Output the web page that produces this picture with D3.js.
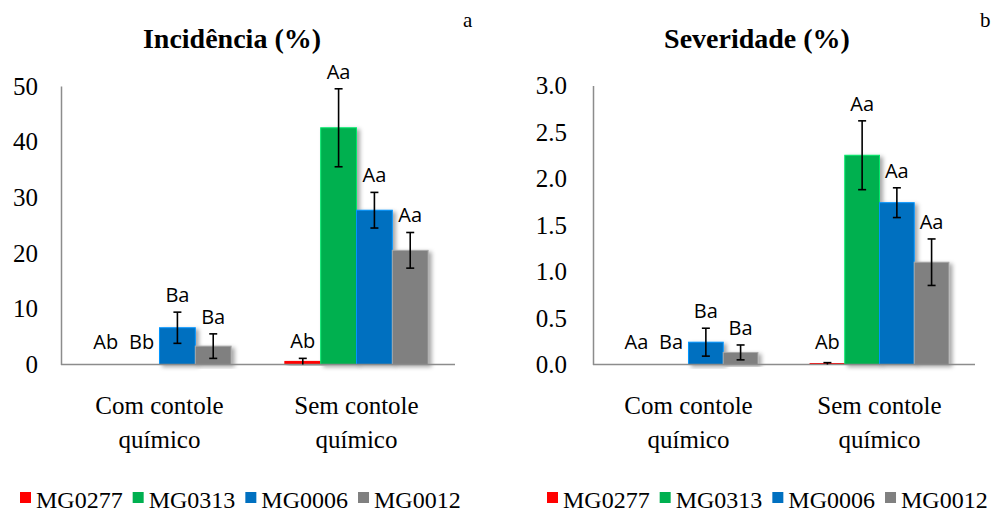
<!DOCTYPE html>
<html>
<head>
<meta charset="utf-8">
<script src="https://cdnjs.cloudflare.com/ajax/libs/d3/7.8.5/d3.min.js"></script>
<style>
  body { margin: 0; background: #fff; }
  svg { display: block; }
</style>
</head>
<body>
<div id="chart"></div>
<script>
// data
var categories = ["Com contole\nquímico", "Sem contole\nquímico"];
var lines = ["MG0277", "MG0313", "MG0006", "MG0012"];
var colors = ["#ff0000", "#00b050", "#0070c0", "#808080"];

// incidência (%) -> [com, sem] per line
var incValues = [[0, 0.55], [0, 42.5], [6.6, 27.7], [3.3, 20.5]];
var incErrors = [[0, 0.55], [0, 7.0], [2.8, 3.2], [2.2, 3.2]];
var incLetters = [["Ab", "Ab"], ["Bb", "Aa"], ["Ba", "Aa"], ["Ba", "Aa"]];
var incTicks = [0, 10, 20, 30, 40, 50];

// severidade (%)
var sevValues = [[0, 0.01], [0, 2.25], [0.24, 1.74], [0.13, 1.1]];
var sevErrors = [[0, 0.01], [0, 0.37], [0.15, 0.16], [0.08, 0.25]];
var sevLetters = [["Aa", "Ab"], ["Ba", "Aa"], ["Ba", "Aa"], ["Ba", "Aa"]];
var sevTicks = [0, 0.5, 1.0, 1.5, 2.0, 2.5, 3.0];

var SERIF = "'Liberation Serif', 'Times New Roman', serif";
var SANS = "'Open Sans', 'Noto Sans', sans-serif";

(function(){

  var width = 991, height = 513;

  var svg = d3.select("#chart").append("svg")
    .attr("width", width)
    .attr("height", height);

  // soft shadow that excel puts on the bars
  var filter = svg.append("defs").append("filter")
    .attr("id", "shadow")
    .attr("x", "-20%").attr("y", "-20%")
    .attr("width", "150%").attr("height", "140%");
  filter.append("feDropShadow")
    .attr("dx", 3).attr("dy", 2)
    .attr("stdDeviation", 2)
    .attr("flood-color", "#000")
    .attr("flood-opacity", 0.35);

  function serif(sel, size) {
    return sel.style("font-family", SERIF)
      .style("font-size", size + "px")
      .attr("fill", "#000");
  }

  function panel(opt) {
    var g = svg.append("g");

    var y = d3.scaleLinear()
      .domain([0, opt.ticks[opt.ticks.length - 1]])
      .range([opt.bottom, opt.top]);

    var x0 = d3.scaleBand()
      .domain(d3.range(categories.length))
      .range([opt.left, opt.right]);

    var x1 = d3.scaleBand()
      .domain(d3.range(lines.length))
      .range([0, x0.bandwidth()])
      .paddingOuter(0.75);

    // title + panel letter
    serif(g.append("text"), 28)
      .attr("x", opt.titleX).attr("y", 48)
      .attr("text-anchor", "middle")
      .style("font-weight", "bold")
      .text(opt.title);

    serif(g.append("text"), 21)
      .attr("x", opt.letterX).attr("y", 27)
      .text(opt.letter);

    // y axis: only line and labels
    var yAxis = d3.axisLeft(y)
      .tickValues(opt.ticks)
      .tickSize(0)
      .tickPadding(opt.tickPad)
      .tickFormat(opt.format);

    var ya = g.append("g")
      .attr("transform", "translate(" + opt.left + ",0)")
      .call(yAxis);
    ya.select(".domain").attr("stroke", "#8c8c8c").attr("stroke-width", 1.5);
    serif(ya.selectAll("text"), 25);

    // bars
    var bars = [];
    lines.forEach(function(name, s) {
      categories.forEach(function(c, i) {
        bars.push({ s: s, i: i, v: opt.values[s][i], e: opt.errors[s][i], t: opt.letters[s][i] });
      });
    });

    g.selectAll(".bar")
      .data(bars.filter(function(d) { return d.v > 0; }))
      .enter().append("rect")
      .attr("class", "bar")
      .attr("x", function(d) { return x0(d.i) + x1(d.s); })
      .attr("width", x1.bandwidth())
      .attr("y", function(d) { return y(d.v); })
      .attr("height", function(d) { return y(0) - y(d.v); })
      .attr("fill", function(d) { return colors[d.s]; })
      .attr("stroke", function(d) { return d3.color(colors[d.s]).brighter(0.8); })
      .attr("stroke-width", 1)
      .attr("filter", "url(#shadow)");

    // x axis line over the bars
    g.append("line")
      .attr("x1", opt.left).attr("x2", opt.right)
      .attr("y1", y(0)).attr("y2", y(0))
      .attr("stroke", "#8c8c8c")
      .attr("stroke-width", 1.5);

    // error bars
    var eb = g.selectAll(".err")
      .data(bars.filter(function(d) { return d.e > 0; }))
      .enter().append("g")
      .attr("class", "err")
      .attr("stroke", "#000")
      .attr("stroke-width", 1.6);

    function cx(d) { return x0(d.i) + x1(d.s) + x1.bandwidth() / 2; }

    eb.append("line")
      .attr("x1", cx).attr("x2", cx)
      .attr("y1", function(d) { return y(Math.max(0, d.v - d.e)); })
      .attr("y2", function(d) { return y(d.v + d.e); });
    eb.append("line")
      .attr("x1", function(d) { return cx(d) - 4; })
      .attr("x2", function(d) { return cx(d) + 4; })
      .attr("y1", function(d) { return y(d.v + d.e); })
      .attr("y2", function(d) { return y(d.v + d.e); });
    eb.filter(function(d) { return d.v - d.e > 0; }).append("line")
      .attr("x1", function(d) { return cx(d) - 4; })
      .attr("x2", function(d) { return cx(d) + 4; })
      .attr("y1", function(d) { return y(d.v - d.e); })
      .attr("y2", function(d) { return y(d.v - d.e); });

    // letters of the mean test
    g.selectAll(".lbl")
      .data(bars)
      .enter().append("text")
      .attr("class", "lbl")
      .style("font-family", SANS)
      .style("font-size", "20px")
      .attr("x", cx)
      .attr("y", function(d) { return Math.min(y(d.v + d.e) - 10, y(0) - 16); })
      .attr("text-anchor", "middle")
      .text(function(d) { return d.t; });

    // category labels, two lines
    categories.forEach(function(c, i) {
      var t = serif(g.append("text"), 25)
        .attr("text-anchor", "middle");
      c.split("\n").forEach(function(part, k) {
        t.append("tspan")
          .attr("x", x0(i) + x0.bandwidth() / 2)
          .attr("y", 414 + k * 34)
          .text(part);
      });
    });

    // legend
    var lx = opt.legendX;
    lines.forEach(function(name, s) {
      g.append("rect")
        .attr("x", lx).attr("y", 492)
        .attr("width", 11).attr("height", 11)
        .attr("fill", colors[s]);
      var t = serif(g.append("text"), 24)
        .attr("x", lx + 16).attr("y", 508)
        .text(name);
      lx += 16 + t.node().getComputedTextLength() + 10;
    });
  }

  panel({
    title: "Incidência (%)", titleX: 232, letter: "a", letterX: 463,
    values: incValues, errors: incErrors, letters: incLetters, ticks: incTicks,
    format: d3.format("d"), tickPad: 23,
    left: 61, right: 455, top: 86, bottom: 364.5, legendX: 20
  });

  panel({
    title: "Severidade (%)", titleX: 757, letter: "b", letterX: 980,
    values: sevValues, errors: sevErrors, letters: sevLetters, ticks: sevTicks,
    format: d3.format(".1f"), tickPad: 26,
    left: 593, right: 975, top: 85.5, bottom: 364.5, legendX: 547
  });

})()
</script>
</body>
</html>
